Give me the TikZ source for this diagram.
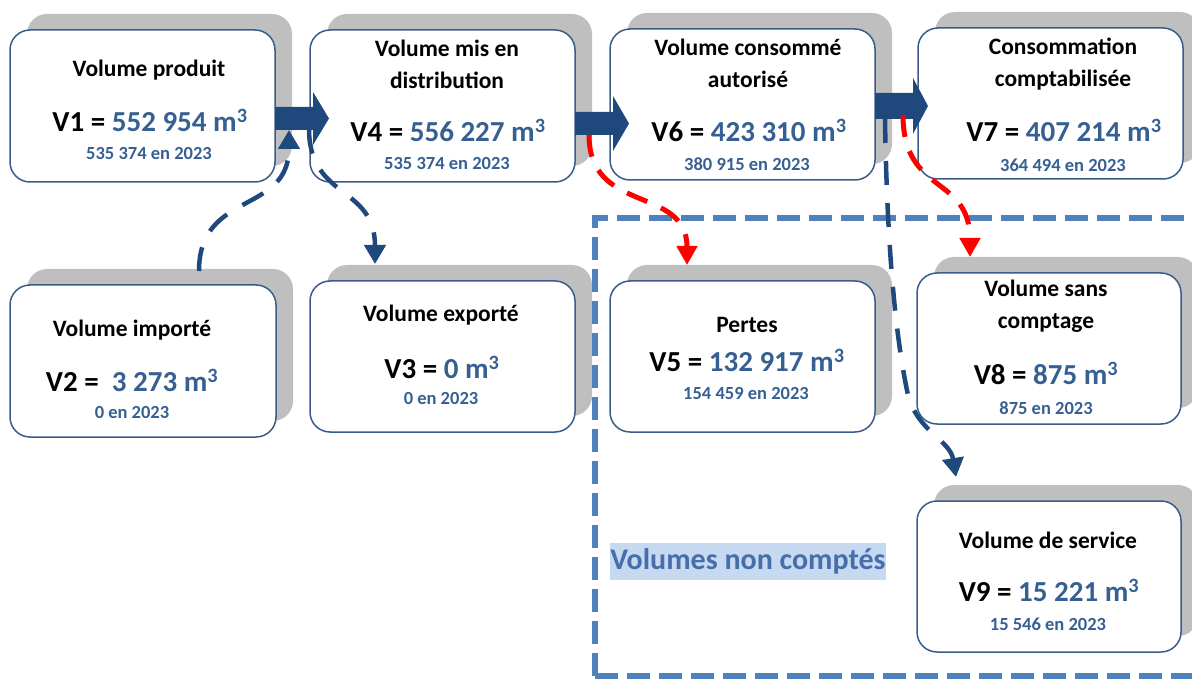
\documentclass[tikz,border=0pt]{standalone}
\usepackage{fontspec}
\setmainfont{Carlito}
\usetikzlibrary{arrows.meta}
\definecolor{boxblue}{RGB}{56,93,138}
\definecolor{numblue}{RGB}{55,96,146}
\definecolor{arrowblue}{RGB}{31,73,125}
\definecolor{regionblue}{RGB}{79,129,189}
\definecolor{labelbg}{RGB}{198,217,241}
\definecolor{labeltext}{RGB}{70,110,170}
\definecolor{shadowgrey}{RGB}{191,191,191}
\newcommand\panelbox[5]{%
  \fill[shade] ({#2+17},{#3-16}) rectangle ({#4+17},{#5-16});
  \node[panel, minimum width={#4-#2}, minimum height={#5-#3}] (#1) at ({(#2+#4)/2},{(#3+#5)/2}) {};
}
\begin{document}
\begin{tikzpicture}[x=1pt,y=-1pt,
  panel/.style={draw=boxblue, line width=1.5pt, fill=white, rounded corners=20pt, inner sep=0pt},
  shade/.style={fill=shadowgrey, rounded corners=20pt},
  ttl/.style={font=\fontsize{23.5}{32}\selectfont\bfseries, align=center, inner sep=0pt},
  val/.style={font=\fontsize{29}{32}\selectfont\bfseries, inner sep=0pt},
  yr/.style={font=\fontsize{18.5}{20}\selectfont\bfseries, text=numblue, inner sep=0pt},
  blockarrow/.style={fill=arrowblue},
  bluedash/.style={draw=arrowblue, line width=4.5pt, dash pattern=on 24pt off 18pt, -{Triangle[length=19pt,width=21pt]}},
  reddash/.style={draw=red, line width=5pt, dash pattern=on 22pt off 15pt, -{Triangle[length=19pt,width=20pt]}},
  region/.style={draw=regionblue, line width=5.5pt, dash pattern=on 23pt off 9pt},
]
\useasboundingbox (0,0) rectangle (1192,679);
\clip (0,0) rectangle (1192,679);

% panels with shadows
\panelbox{v1}{10}{30}{275}{182}
\panelbox{v4}{310}{30}{575}{182}
\panelbox{v6}{610}{29}{875}{180}
\panelbox{v7}{918}{28}{1183}{179}
\panelbox{v2}{10}{285}{276}{437}
\panelbox{v3}{310}{281}{575}{432}
\panelbox{v5}{610}{281}{875}{432}
\panelbox{v8}{917}{273}{1181}{424}
\panelbox{v9}{917}{501}{1181}{652}

% region of uncounted volumes
\draw[region] (595,676) -- (595,218) -- (1260,218);
\draw[region] (595,676) -- (1260,676);

% block arrows
\fill[blockarrow] (275,107) -- (313,107) -- (313,92) -- (329,118.5) -- (313,145) -- (313,130) -- (275,130) -- cycle;
\fill[blockarrow] (575,112) -- (613,112) -- (613,96) -- (629,123.5) -- (613,151) -- (613,135) -- (575,135) -- cycle;
\fill[blockarrow] (875,93) -- (913,93) -- (913,78) -- (928,106) -- (913,134) -- (913,119) -- (875,119) -- cycle;

% connector end points
\coordinate (c1s) at (199,271);
\coordinate (c1e) at (289,130);
\coordinate (c2s) at (309,130);
\coordinate (c2e) at (375,264);
\coordinate (c3s) at (589,135);
\coordinate (c3e) at (687,265);
\coordinate (c4s) at (903,115);
\coordinate (c4e) at (970,257);
\coordinate (c5s) at (885,119);
\coordinate (c5m) at (908,395);
\coordinate (c5e) at (956,477);

% dashed connectors
\draw[bluedash] (c1s) .. controls (199,190) and (289,215) .. (c1e);
\draw[bluedash] (c2s) .. controls (310,200) and (375,185) .. (c2e);
\draw[reddash] (c3s) .. controls (589,215) and (687,185) .. (c3e);
\draw[reddash] (c4s) .. controls (903,195) and (970,175) .. (c4e);
\draw[bluedash] (c5s) .. controls (887,250) and (896,340) .. (c5m) .. controls (918,432) and (950,440) .. (c5e);

% texts
\node[ttl] (v1t) at (149,70) {Volume produit};
\node[val] (v1v) at (150,120) {V1 = \textcolor{numblue}{552 954 m\textsuperscript{3}}};
\node[yr] (v1y) at (149,154) {535 374 en 2023};

\node[ttl] (v4t) at (447,64) {Volume mis en\\distribution};
\node[val] (v4v) at (448,130) {V4 = \textcolor{numblue}{556 227 m\textsuperscript{3}}};
\node[yr] (v4y) at (447,164) {535 374 en 2023};

\node[ttl] (v6t) at (748,63) {Volume consommé\\autorisé};
\node[val] (v6v) at (749,130) {V6 = \textcolor{numblue}{423 310 m\textsuperscript{3}}};
\node[yr] (v6y) at (747,164) {380 915 en 2023};

\node[ttl] (v7t) at (1063,64) {Consommation\\comptabilisée};
\node[val] (v7v) at (1064,130) {V7 = \textcolor{numblue}{407 214 m\textsuperscript{3}}};
\node[yr] (v7y) at (1063,165) {364 494 en 2023};

\node[ttl] (v2t) at (132,330) {Volume importé};
\node[val] (v2v) at (132,380) {V2 = ~\textcolor{numblue}{3 273 m\textsuperscript{3}}};
\begin{scope}
\clip (0,0) rectangle (1192,417);
\node[yr] (v2y) at (132,413) {0 en 2023};
\end{scope}

\node[ttl] (v3t) at (441,315) {Volume exporté};
\node[val] (v3v) at (442,367) {V3 = \textcolor{numblue}{0 m\textsuperscript{3}}};
\node[yr] (v3y) at (441,399) {0 en 2023};

\node[ttl] (v5t) at (747,325) {Pertes};
\node[val] (v5v) at (747,360) {V5 = \textcolor{numblue}{132 917 m\textsuperscript{3}}};
\node[yr] (v5y) at (746,394) {154 459 en 2023};

\node[ttl] (v8t) at (1046,306) {Volume sans\\comptage};
\node[val] (v8v) at (1046,373) {V8 = \textcolor{numblue}{875 m\textsuperscript{3}}};
\node[yr] (v8y) at (1046,408) {875 en 2023};

\node[ttl] (v9t) at (1048,540) {Volume de service};
\node[val] (v9v) at (1049,590) {V9 = \textcolor{numblue}{15 221 m\textsuperscript{3}}};
\node[yr] (v9y) at (1048,624) {15 546 en 2023};

\node[fill=labelbg, text=labeltext, font=\fontsize{30}{30}\selectfont\bfseries, inner xsep=0pt, minimum height=37pt] (nc) at (748,561.5) {Volumes non comptés};
\end{tikzpicture}
\end{document}
